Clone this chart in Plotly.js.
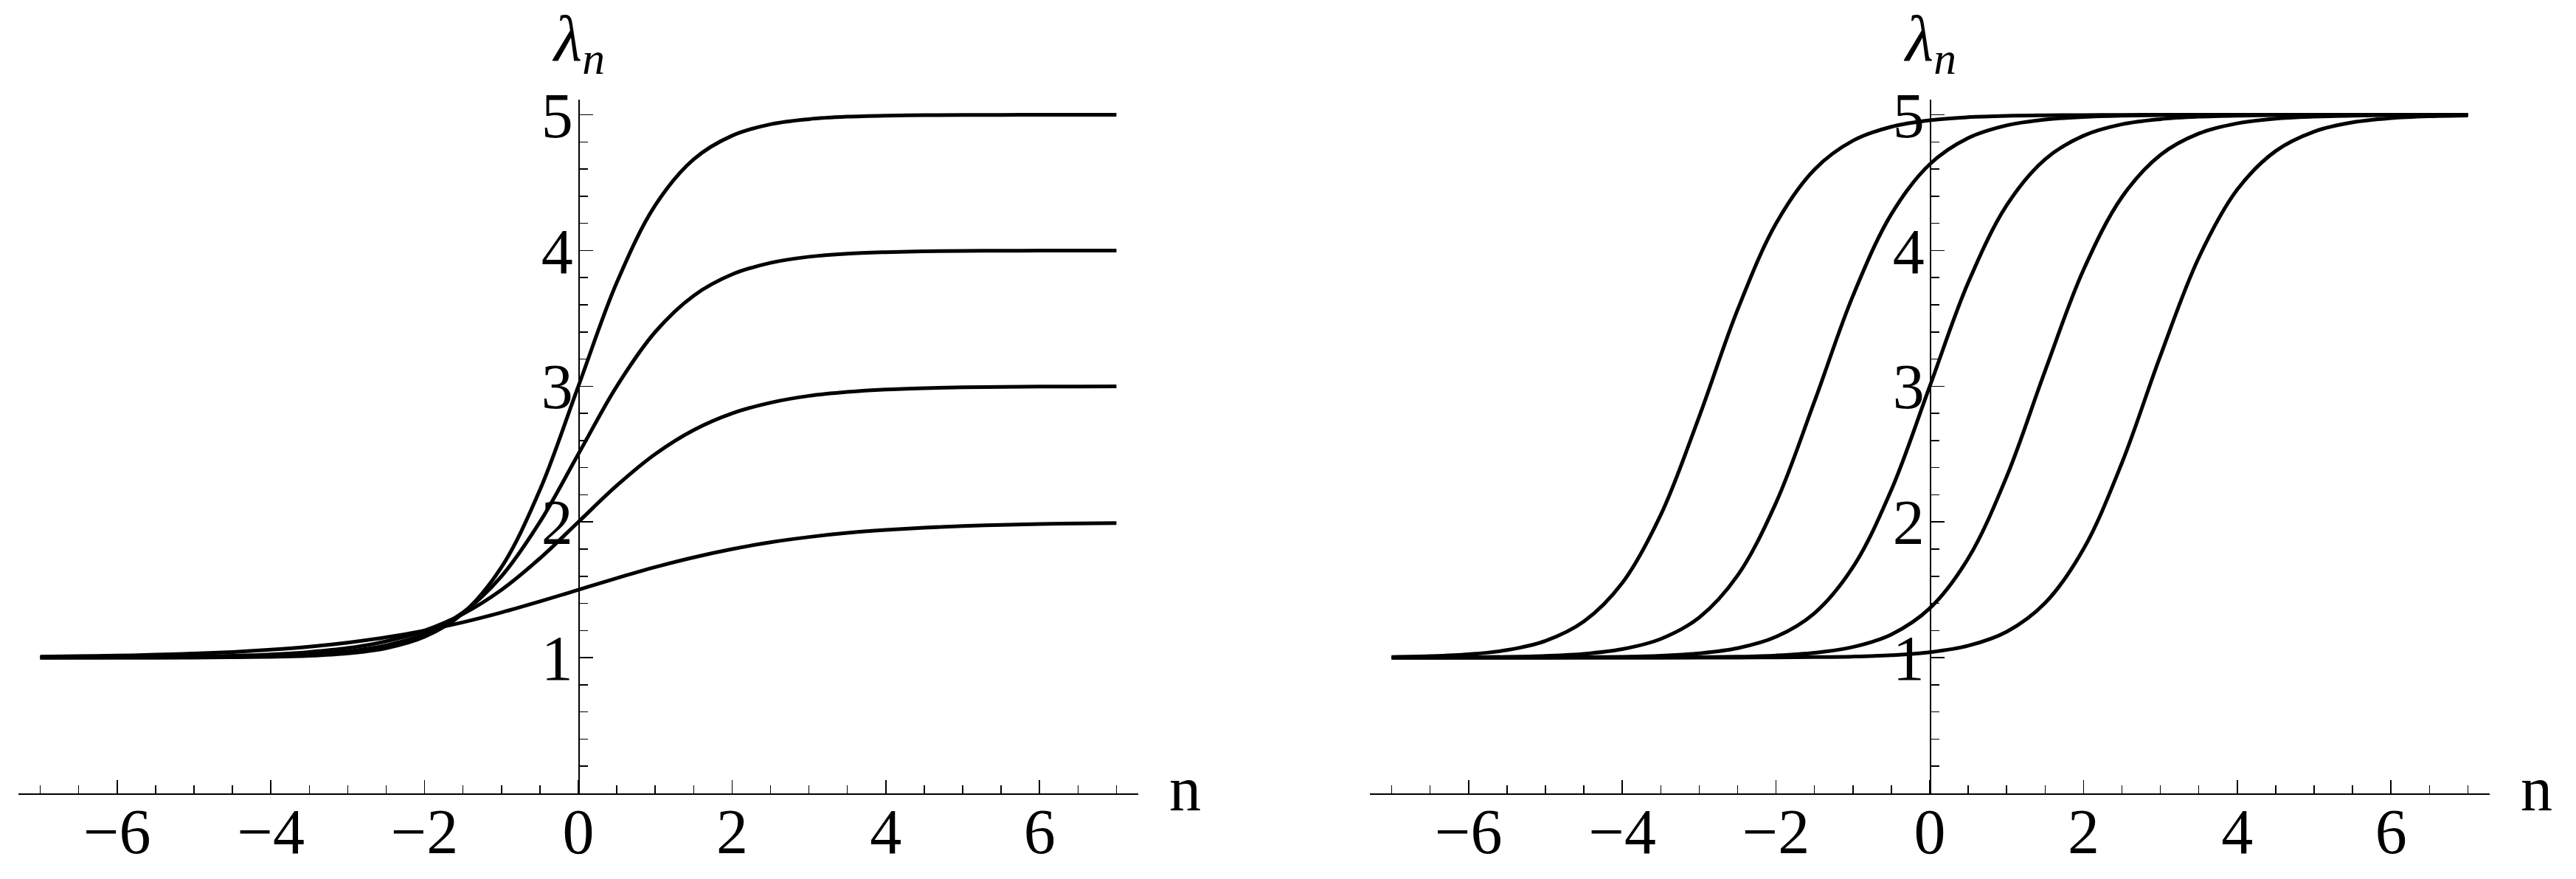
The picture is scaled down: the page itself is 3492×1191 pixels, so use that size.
<!DOCTYPE html>
<html>
<head>
<meta charset="utf-8">
<script src="https://cdn.plot.ly/plotly-3.0.1.min.js"></script>
<style>html,body{margin:0;padding:0;background:#fff;}#chart{width:3492px;height:1191px;}</style>
</head>
<body>
<div id="chart"></div>
<script>
// n grid, -7 .. 7 step 0.5
const n = [-7,-6.5,-6,-5.5,-5,-4.5,-4,-3.5,-3,-2.5,-2,-1.5,-1,-0.5,0,0.5,1,1.5,2,2.5,3,3.5,4,4.5,5,5.5,6,6.5,7];

// Left panel: curves saturating at 2, 3, 4, 5
const leftTo2 = [1.008,1.011,1.015,1.022,1.030,1.042,1.059,1.081,1.111,1.150,1.200,1.261,1.333,1.414,1.500,1.586,1.667,1.739,1.800,1.850,1.889,1.919,1.941,1.958,1.970,1.978,1.985,1.989,1.992];
const leftTo3 = [1.001,1.002,1.003,1.005,1.008,1.014,1.024,1.042,1.071,1.121,1.200,1.323,1.500,1.732,2.000,2.268,2.500,2.677,2.800,2.879,2.929,2.958,2.976,2.986,2.992,2.995,2.997,2.998,2.999];
const leftTo4 = [1.000,1.000,1.001,1.001,1.003,1.006,1.012,1.023,1.046,1.091,1.176,1.333,1.600,2.000,2.500,3.000,3.400,3.667,3.824,3.909,3.954,3.977,3.988,3.994,3.997,3.998,3.999,4.000,4.000];
const leftTo5 = [1.000,1.000,1.000,1.001,1.001,1.003,1.006,1.014,1.032,1.070,1.154,1.328,1.667,2.236,3.000,3.764,4.333,4.672,4.846,4.930,4.968,4.986,4.994,4.997,4.999,4.999,5.000,5.000,5.000];

// Right panel: five shifted curves, all from 1 to 5
const right1 = [1.005,1.011,1.025,1.056,1.124,1.267,1.551,2.052,2.776,3.564,4.199,4.597,4.809,4.912,4.960,4.982,4.992,4.996,4.998,4.999,5.000,5.000,5.000,5.000,5.000,5.000,5.000,5.000,5.000];
const right2 = [1.001,1.001,1.003,1.006,1.013,1.028,1.063,1.138,1.296,1.606,2.142,2.888,3.666,4.268,4.636,4.829,4.922,4.965,4.984,4.993,4.997,4.999,4.999,5.000,5.000,5.000,5.000,5.000,5.000];
const right3 = [1.000,1.000,1.000,1.001,1.001,1.003,1.006,1.014,1.032,1.070,1.154,1.328,1.667,2.236,3.000,3.764,4.333,4.672,4.846,4.930,4.968,4.986,4.994,4.997,4.999,4.999,5.000,5.000,5.000];
const right4 = [1.000,1.000,1.000,1.000,1.000,1.000,1.001,1.001,1.003,1.007,1.016,1.036,1.079,1.171,1.364,1.732,2.334,3.113,3.858,4.394,4.704,4.862,4.937,4.972,4.987,4.994,4.997,4.999,5.000];
const right5 = [1.000,1.000,1.000,1.000,1.000,1.000,1.000,1.000,1.000,1.001,1.002,1.004,1.008,1.018,1.040,1.088,1.191,1.403,1.801,2.436,3.224,3.948,4.449,4.733,4.876,4.944,4.975,4.989,4.995];

const yTickVals = [1,2,3,4,5];
const yTickText = ['1','2','3','4','5'];
const xAxisLabel = 'n';
const yAxisLabel = '<i>λ</i><sub><i>n</i></sub>';

const W = 3492, H = 1191;
const FONT = 'Liberation Serif, Times New Roman, serif';
const lineStyle = {color:'#000', width:5, shape:'spline', smoothing:1};

function tr(y, xa, ya){ return {x:n, y:y, xaxis:xa, yaxis:ya, mode:'lines', line:lineStyle, hoverinfo:'skip', showlegend:false}; }

const data = [
  tr(leftTo2,'x','y'), tr(leftTo3,'x','y'), tr(leftTo4,'x','y'), tr(leftTo5,'x','y'),
  tr(right1,'x2','y2'), tr(right2,'x2','y2'), tr(right3,'x2','y2'), tr(right4,'x2','y2'), tr(right5,'x2','y2')
];

const yMinor = [];
for (let i=1;i<=25;i++){ if(i%5!==0) yMinor.push(+(i*0.2).toFixed(1)); }

const XR = [-7.28, 7.28], YR = [0, 5.11];
const yDom = [116/H, (H-135.3)/H];
const leftDom = [25.4/W, 1542.6/W];
const rightDom = [1857.4/W, 3374.6/W];
const leftOrigin = 784/W, rightOrigin = 2616/W;

function xAxis(dom, anchor){
  return {domain:dom, range:XR, anchor:anchor, showline:true, linecolor:'#000', linewidth:1.5,
    ticks:'inside', ticklen:18, tickwidth:1.5, tickcolor:'#000', tickmode:'linear', tick0:0, dtick:2,
    minor:{ticks:'inside', ticklen:11, tickwidth:1.5, tickcolor:'#000', dtick:0.5, tick0:0, showgrid:false},
    showgrid:false, zeroline:false, automargin:false, fixedrange:true,
    tickfont:{family:FONT, size:86, color:'#000'}, ticklabelstandoff:-24};
}
function yAxis(pos){
  return {domain:yDom, range:YR, anchor:'free', position:pos, showline:true, linecolor:'#000', linewidth:1.5,
    ticks:'inside', ticklen:18, tickwidth:1.5, tickcolor:'#000', tickmode:'array', tickvals:yTickVals, ticktext:yTickText,
    minor:{ticks:'inside', ticklen:11, tickwidth:1.5, tickcolor:'#000', tickmode:'array', tickvals:yMinor, showgrid:false},
    showgrid:false, zeroline:false, automargin:false, fixedrange:true,
    tickfont:{family:FONT, size:86, color:'#000'}, ticklabelstandoff:-10};
}

function labels(xa, ya){
  return [
    {xref:xa, yref:ya, x:0, y:YR[1], xanchor:'center', yanchor:'bottom', yshift:20, showarrow:false,
     text:yAxisLabel, font:{family:FONT, size:88, color:'#000'}},
    {xref:xa, yref:ya, x:XR[1], y:0, xanchor:'left', yanchor:'middle', xshift:40, yshift:6, showarrow:false,
     text:xAxisLabel, font:{family:FONT, size:86, color:'#000'}}
  ];
}

const layout = {
  width:W, height:H, margin:{l:0,r:0,t:0,b:0,pad:0},
  paper_bgcolor:'#fff', plot_bgcolor:'#fff', showlegend:false,
  xaxis:xAxis(leftDom,'y'), yaxis:yAxis(leftOrigin),
  xaxis2:xAxis(rightDom,'y2'), yaxis2:yAxis(rightOrigin),
  annotations: labels('x','y').concat(labels('x2','y2'))
};

Plotly.newPlot('chart', data, layout, {staticPlot:true, displayModeBar:false});
</script>
</body>
</html>
